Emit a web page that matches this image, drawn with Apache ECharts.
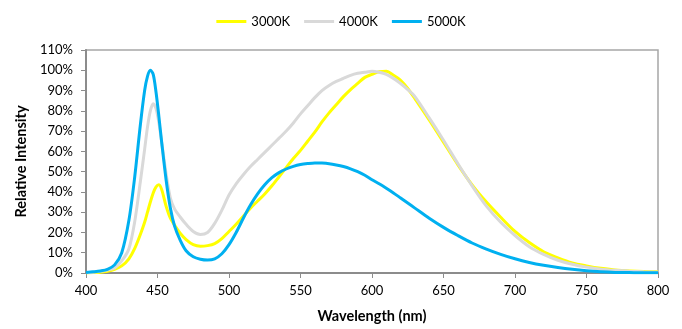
<!DOCTYPE html>
<html>
<head>
<meta charset="utf-8">
<script src="https://cdn.jsdelivr.net/npm/echarts@6/dist/echarts.min.js"></script>
<style>
  html, body { margin: 0; padding: 0; background: #fff; }
  #chart { width: 682px; height: 329px; }
</style>
</head>
<body>
<div id="chart"></div>
<script>
// wavelength in nm (denser around the blue peak)
const wavelengths = [400, 405, 410, 415, 420, 425, 430, 434, 438, 441, 443, 445, 447, 449, 451, 453, 456, 459, 462, 466, 470, 475, 480, 485, 490, 495, 500, 505, 510, 515, 520, 525, 530, 535, 540, 545, 550, 555, 560, 565, 570, 575, 580, 585, 590, 595, 600, 605, 610, 615, 620, 625, 630, 640, 650, 660, 670, 680, 690, 700, 710, 720, 730, 740, 750, 760, 770, 780, 790, 800]

// relative intensity in %
const k3000 = [0, 0.2, 0.4, 0.9, 1.8, 3.5, 7, 12, 19, 25, 30, 35, 39.5, 42.5, 43.5, 41, 33, 27, 23.5, 19.5, 16.5, 14, 13.2, 13.5, 14.5, 17, 20.5, 24, 28, 32, 35.5, 39, 43, 47.5, 52, 56.5, 60.5, 65, 69.5, 74.5, 79, 83, 87, 90.5, 93.5, 96.5, 98, 99.3, 99.5, 97.5, 95, 91, 86, 75.5, 64.5, 53.5, 43.5, 35, 27.5, 20.5, 15, 10.5, 7.5, 5, 3.5, 2.3, 1.5, 1, 0.7, 0.6]
const k4000 = [0.2, 0.4, 0.8, 1.5, 2.5, 6, 12, 25, 45, 61, 72, 80, 83.5, 81, 74, 64, 49, 37, 31.5, 27.5, 24, 20.5, 19, 20, 24.5, 31, 38.5, 44, 48.5, 52.5, 56, 59.5, 63, 66.5, 70, 74, 78.5, 82.5, 86.5, 90, 92.5, 94.5, 96, 97.5, 98.5, 99, 99.5, 99, 98, 96, 93.5, 90.5, 87, 76.5, 65.5, 54, 43, 33, 25, 18.5, 13, 9.2, 6.3, 4.3, 2.9, 1.9, 1.3, 0.9, 0.6, 0.4]
const k5000 = [0.3, 0.6, 1.0, 1.8, 4, 10, 26, 47, 73, 90, 97, 100, 98, 89, 77, 64, 46, 32, 23, 16, 11, 8, 6.8, 6.4, 7, 9.5, 14, 20, 27, 33.5, 39, 43.5, 47, 49.5, 51.3, 52.6, 53.5, 54, 54.3, 54.2, 53.9, 53.3, 52.5, 51.4, 50, 48.2, 46, 44, 41.8, 39.5, 37, 34.5, 32, 27, 22.5, 18.5, 14.8, 11.8, 9.2, 7, 5.2, 3.8, 2.7, 1.8, 1.1, 0.6, 0.3, 0.2, 0.1, 0.1]

const seriesNames = ['3000K', '4000K', '5000K']
const seriesColors = ['#FFFF00', '#D9D9D9', '#00B0F0']

const font = 'Lato, "Noto Sans", sans-serif'
const pair = (vals) => wavelengths.map((w, i) => [w, vals[i]])

const chart = echarts.init(document.getElementById('chart'))
chart.setOption({
  animation: false,
  textStyle: { fontFamily: font },
  legend: {
    top: 10,
    left: 'center',
    itemWidth: 30,
    itemHeight: 3,
    itemGap: 14,
    icon: 'rect',
    textStyle: { fontSize: 13, color: '#000', fontFamily: font },
    data: seriesNames,
  },
  grid: {
    left: 86,
    right: 24,
    top: 50,
    bottom: 56,
    show: true,
    borderColor: '#a6a6a6',
    borderWidth: 1.5,
  },
  xAxis: {
    type: 'value',
    min: 400,
    max: 800,
    interval: 50,
    name: 'Wavelength (nm)',
    nameLocation: 'middle',
    nameGap: 36,
    nameTextStyle: { fontSize: 14.5, fontWeight: 'bold', color: '#000', fontFamily: font },
    axisLine: { show: true, lineStyle: { color: '#8c8c8c', width: 2 } },
    axisTick: { show: true, inside: false, length: 5, lineStyle: { color: '#8c8c8c', width: 1 } },
    axisLabel: { fontSize: 13, color: '#000', margin: 11, fontFamily: font },
    splitLine: { show: false },
  },
  yAxis: {
    type: 'value',
    min: 0,
    max: 110,
    interval: 10,
    name: 'Relative Intensity',
    nameLocation: 'middle',
    nameGap: 52,
    nameTextStyle: { fontSize: 14.5, fontWeight: 'bold', color: '#000', fontFamily: font },
    axisLine: { show: true, lineStyle: { color: '#8c8c8c', width: 2 } },
    axisTick: { show: true, inside: false, length: 5, lineStyle: { color: '#8c8c8c', width: 1 } },
    axisLabel: { fontSize: 13, color: '#000', margin: 13, formatter: '{value}%', fontFamily: font },
    splitLine: { show: false },
  },
  series: [
    { name: seriesNames[0], type: 'line', data: pair(k3000), smooth: 0.3, symbol: 'none', color: seriesColors[0], lineStyle: { width: 3 }, z: 2 },
    { name: seriesNames[1], type: 'line', data: pair(k4000), smooth: 0.3, symbol: 'none', color: seriesColors[1], lineStyle: { width: 3 }, z: 3 },
    { name: seriesNames[2], type: 'line', data: pair(k5000), smooth: 0.3, symbol: 'none', color: seriesColors[2], lineStyle: { width: 3 }, z: 4 },
  ],
})
</script>
</body>
</html>
